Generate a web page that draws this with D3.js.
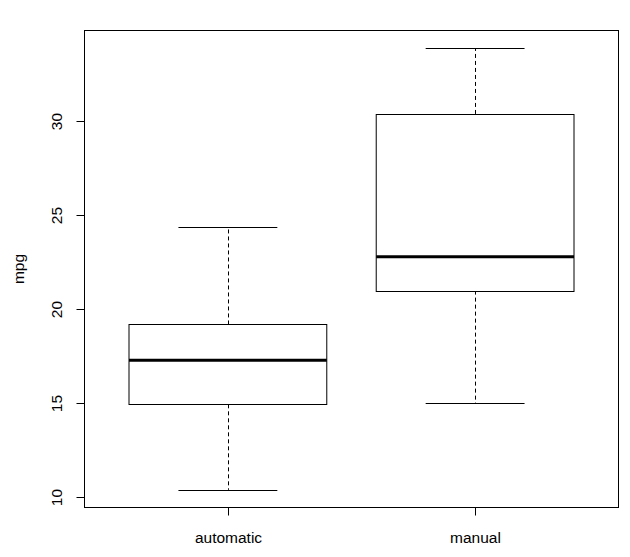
<!DOCTYPE html>
<html><head><meta charset="utf-8">
<script src="https://cdn.jsdelivr.net/npm/d3@7"></script>
<style>body{margin:0;background:#fff}text{font-family:"Liberation Sans",Arial,sans-serif;fill:#000}</style>
</head><body>
<svg id="c" width="630" height="557"></svg>
<script>
const categories = ["automatic", "manual"];
const mins = [10.4, 15.0];
const q1s = [14.95, 21.0];
const medians = [17.3, 22.8];
const q3s = [19.2, 30.4];
const maxs = [24.4, 33.9];
const yTicks = [10, 15, 20, 25, 30];
const yLabel = "mpg";

const svg = d3.select("#c");
const L = 84.5, R = 618.5, T = 30.5, B = 507.5;
const FS = 15.5;
const x = d3.scaleLinear().domain([0.42, 2.58]).range([L, R]);
const y = d3.scaleLinear().domain([9.46, 34.84]).range([B, T]);

const data = categories.map((c, i) => ({c, i: i + 1, min: mins[i], q1: q1s[i], med: medians[i], q3: q3s[i], max: maxs[i]}));

const g = svg.append("g");
data.forEach(d => {
  const cx = Math.round(x(d.i)) + 0.5;
  g.append("line").attr("x1", cx).attr("x2", cx).attr("y1", y(d.q3)).attr("y2", y(d.max))
    .attr("stroke", "#000").attr("stroke-dasharray", "4,3");
  g.append("line").attr("x1", cx).attr("x2", cx).attr("y1", y(d.q1)).attr("y2", y(d.min))
    .attr("stroke", "#000").attr("stroke-dasharray", "4,3");
  [d.min, d.max].forEach(v => {
    g.append("line").attr("x1", x(d.i - 0.2)).attr("x2", x(d.i + 0.2))
      .attr("y1", Math.round(y(v)) + 0.5).attr("y2", Math.round(y(v)) + 0.5).attr("stroke", "#000");
  });
  g.append("rect").attr("x", x(d.i - 0.4)).attr("width", x(d.i + 0.4) - x(d.i - 0.4))
    .attr("y", Math.round(y(d.q3)) + 0.5).attr("height", Math.round(y(d.q1)) - Math.round(y(d.q3)))
    .attr("fill", "#fff").attr("stroke", "#000");
  g.append("line").attr("x1", x(d.i - 0.4)).attr("x2", x(d.i + 0.4))
    .attr("y1", y(d.med)).attr("y2", y(d.med)).attr("stroke", "#000").attr("stroke-width", 3);
});

svg.append("rect").attr("x", L).attr("y", T).attr("width", R - L).attr("height", B - T)
  .attr("fill", "none").attr("stroke", "#000");

const ya = svg.append("g");
yTicks.forEach(t => {
  const yy = Math.round(y(t)) + 0.5;
  ya.append("line").attr("x1", L - 8).attr("x2", L).attr("y1", yy).attr("y2", yy).attr("stroke", "#000");
  ya.append("text").attr("transform", `translate(${L - 22.5},${yy}) rotate(-90)`)
    .attr("text-anchor", "middle").attr("font-size", FS).text(t);
});
const xa = svg.append("g");
data.forEach(d => {
  const cx = Math.round(x(d.i)) + 0.5;
  xa.append("line").attr("x1", cx).attr("x2", cx).attr("y1", B).attr("y2", B + 8).attr("stroke", "#000");
  xa.append("text").attr("x", cx).attr("y", B + 35).attr("text-anchor", "middle").attr("font-size", FS).text(d.c);
});
svg.append("text").attr("transform", `translate(23.5,${(T + B) / 2}) rotate(-90)`)
  .attr("text-anchor", "middle").attr("font-size", FS).text(yLabel);
</script>
</body></html>
